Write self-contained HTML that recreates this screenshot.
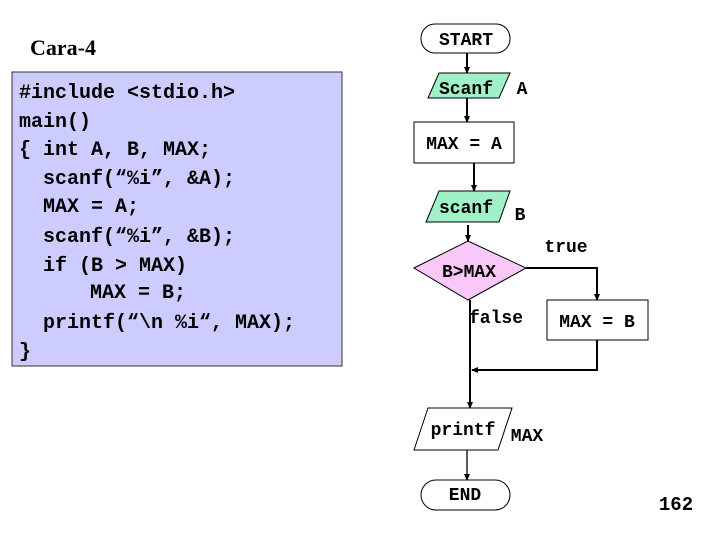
<!DOCTYPE html>
<html><head><meta charset="utf-8"><style>
html,body{margin:0;padding:0;background:#fff;}
svg{display:block;}
.m{font-family:"Liberation Mono",monospace;font-weight:bold;}
</style></head><body>
<svg width="720" height="540" viewBox="0 0 720 540" xmlns="http://www.w3.org/2000/svg">
<defs><marker id="a" markerUnits="userSpaceOnUse" markerWidth="7" markerHeight="7" refX="6" refY="3.5" orient="auto"><path d="M0,0.5 L7,3.5 L0,6.5z" fill="#000"/></marker></defs>
<text x="30" y="55" font-family="Liberation Serif,serif" font-weight="bold" font-size="22">Cara-4</text>
<rect x="12" y="72" width="330" height="294" fill="#ccccff" stroke="#333" stroke-width="1"/>
<g class="m" font-size="20" fill="#000">
<text x="19" y="98">#include &lt;stdio.h&gt;</text>
<text x="19" y="127">main()</text>
<text x="19" y="155">{ int A, B, MAX;</text>
<text x="43" y="184">scanf(“%i”, &amp;A);</text>
<text x="43" y="212">MAX = A;</text>
<text x="43" y="242">scanf(“%i”, &amp;B);</text>
<text x="43" y="271">if (B &gt; MAX)</text>
<text x="90" y="298">MAX = B;</text>
<text x="43" y="328">printf(“\n %i“, MAX);</text>
<text x="19" y="357">}</text>
</g>
<g stroke="#000" stroke-width="2" fill="none">
<line x1="467" y1="53" x2="467" y2="73" marker-end="url(#a)"/>
<line x1="467" y1="98" x2="467" y2="122" marker-end="url(#a)"/>
<line x1="474" y1="163" x2="474" y2="191" marker-end="url(#a)"/>
<line x1="468" y1="225" x2="468" y2="241" marker-end="url(#a)"/>
<polyline points="526,268 597,268 597,300" marker-end="url(#a)"/>
<line x1="470" y1="300" x2="470" y2="408" marker-end="url(#a)"/>
<polyline points="597,340 597,370 472,370" marker-end="url(#a)"/>
<line x1="467" y1="450" x2="467" y2="480" stroke-width="1.3" marker-end="url(#a)"/>
</g>
<g stroke="#000" stroke-width="1">
<rect x="421" y="24" width="89" height="29" rx="14" fill="#fff"/>
<polygon points="439,73 510,73 499,98 428,98" fill="#a0f0c8"/>
<rect x="414" y="122" width="100" height="41" fill="#fff"/>
<polygon points="439,191 510,191 499,222 426,222" fill="#a0f0c8"/>
<polygon points="414,268 468,241 526,268 468,300" fill="#f8c8f8"/>
<rect x="547" y="300" width="101" height="40" fill="#fff"/>
<polygon points="428,408 512,408 498,450 414,450" fill="#fff"/>
<rect x="421" y="480" width="89" height="30" rx="15" fill="#fff"/>
</g>
<g class="m" font-size="18" fill="#000" text-anchor="middle">
<text x="466" y="45">START</text>
<text x="466" y="94">Scanf</text>
<text x="522" y="94">A</text>
<text x="464" y="149">MAX = A</text>
<text x="466" y="213">scanf</text>
<text x="520" y="220">B</text>
<text x="566" y="252">true</text>
<text x="469" y="277">B&gt;MAX</text>
<text x="496" y="323">false</text>
<text x="597" y="327">MAX = B</text>
<text x="463" y="435">printf</text>
<text x="527" y="441">MAX</text>
<text x="465" y="500">END</text>
<text x="676" y="510" font-size="19">162</text>
</g>
</svg>
</body></html>
